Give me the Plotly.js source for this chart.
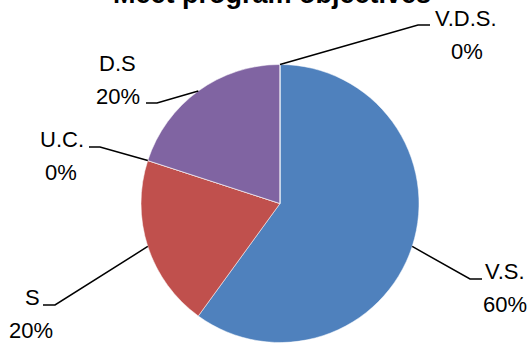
<!DOCTYPE html>
<html>
<head>
<meta charset="utf-8">
<script src="https://cdn.plot.ly/plotly-3.0.1.min.js"></script>
<style>html,body{margin:0;padding:0;background:#fff;}#chart{width:532px;height:343px;}</style>
</head>
<body>
<div id="chart"></div>
<script>
// ---- data ----
var titleText = "Meet program objectives";
var labels = ["V.S.", "S", "U.C.", "D.S", "V.D.S."];
var values = [60, 20, 0, 20, 0];
var percentText = ["60%", "20%", "0%", "20%", "0%"];
var colors = ["#4F81BD", "#C0504D", "#9BBB59", "#8064A2", "#4BACC6"];

// ---- layout constants (pixels) ----
var W = 532, H = 343;
var cx = 280, cy = 203.5, R = 139;
// label block centres (label line, percent line) and leader elbow/end
var labelPos = [
  {lx: 505, ly: 271, px: 505, py: 304, elbow: [470, 279], end: [482, 279]},
  {lx: 32, ly: 297, px: 31, py: 330, elbow: [55, 305], end: [43, 305]},
  {lx: 62, ly: 139, px: 61, py: 172, elbow: [100, 147], end: [89, 147]},
  {lx: 117, ly: 64, px: 118, py: 96, elbow: [157, 103], end: [146, 103]},
  {lx: 466, ly: 18, px: 467, py: 51, elbow: [418, 25], end: [430, 25]}
];

function px2x(x) { return x / W; }
function px2y(y) { return 1 - y / H; }

var total = values.reduce(function (a, b) { return a + b; }, 0);
var cum = 0;
var shapes = [];
var annotations = [];
values.forEach(function (v, i) {
  var mid = (cum + v / 2) / total * 2 * Math.PI;
  cum += v;
  var sx = cx + R * Math.sin(mid);
  var sy = cy - R * Math.cos(mid);
  var p = labelPos[i];
  shapes.push({
    type: "path", xref: "paper", yref: "paper",
    path: "M " + px2x(sx) + "," + px2y(sy) + " L " + px2x(p.elbow[0]) + "," + px2y(p.elbow[1]) +
          " L " + px2x(p.end[0]) + "," + px2y(p.end[1]),
    line: {color: "#000", width: 1.5}
  });
  annotations.push({
    xref: "paper", yref: "paper", x: px2x(p.lx), y: px2y(p.ly),
    xanchor: "center", yanchor: "middle", showarrow: false,
    text: labels[i], font: {family: "Liberation Sans, Arial, sans-serif", size: 22, color: "#000"}
  });
  annotations.push({
    xref: "paper", yref: "paper", x: px2x(p.px), y: px2y(p.py),
    xanchor: "center", yanchor: "middle", showarrow: false,
    text: percentText[i], font: {family: "Liberation Sans, Arial, sans-serif", size: 22, color: "#000"}
  });
});

annotations.push({
  xref: "paper", yref: "paper", x: px2x(272), y: px2y(-6.5),
  xanchor: "center", yanchor: "middle", showarrow: false,
  text: "<b>" + titleText + "</b>",
  font: {family: "Liberation Sans, Arial, sans-serif", size: 27, color: "#000"}
});

var trace = {
  type: "pie",
  labels: labels,
  values: values,
  sort: false,
  direction: "clockwise",
  rotation: 0,
  textinfo: "none",
  hoverinfo: "label+percent",
  marker: {colors: colors, line: {color: "#ffffff", width: 0.5}},
  domain: {
    x: [(cx - R) / W, (cx + R) / W],
    y: [1 - (cy + R) / H, 1 - (cy - R) / H]
  }
};

var layout = {
  width: W, height: H,
  margin: {l: 0, r: 0, t: 0, b: 0},
  paper_bgcolor: "#fff",
  showlegend: false,
  shapes: shapes,
  annotations: annotations
};

Plotly.newPlot("chart", [trace], layout, {displayModeBar: false, staticPlot: true});
</script>
</body>
</html>
